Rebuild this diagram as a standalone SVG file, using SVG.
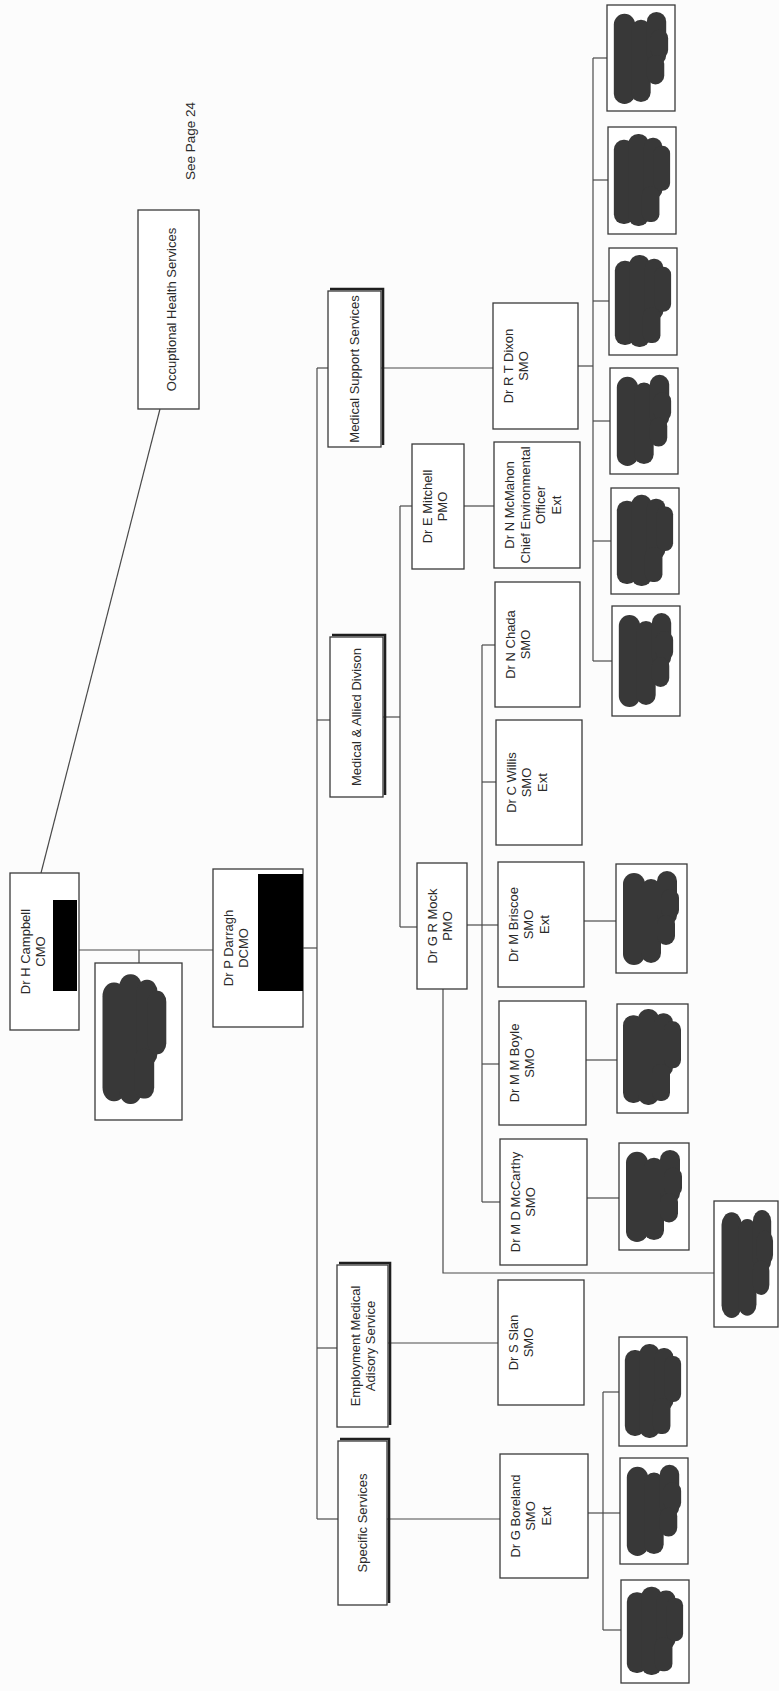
<svg xmlns="http://www.w3.org/2000/svg" width="779" height="1691" viewBox="0 0 779 1691">
<style>
.box{fill:#fff;stroke:#3a3a3a;stroke-width:1.3}
.shadow{fill:none;stroke:#1e1e1e;stroke-width:2.6}
.pic{fill:#fff;stroke:#3a3a3a;stroke-width:1.3}
.blob{fill:#383838}
.red{fill:#000}
#connectors line,#connectors polyline{stroke:#4a4a4a;stroke-width:1.2;fill:none}
text{font-family:"Liberation Sans",Arial,sans-serif;font-size:13px;fill:#2a2a2a;text-anchor:middle}
</style>
<defs>
<g id="blobA" class="blob">
<rect x="5" y="12" width="21" height="86" rx="10"/>
<rect x="20" y="6" width="21" height="94" rx="10"/>
<rect x="36" y="10" width="19" height="62" rx="9"/>
<rect x="46" y="18" width="17" height="46" rx="8"/>
<rect x="34" y="60" width="18" height="36" rx="8"/>
</g>
<g id="blobB" class="blob">
<rect x="6" y="8" width="22" height="92" rx="11"/>
<rect x="24" y="14" width="20" height="84" rx="10"/>
<rect x="40" y="6" width="20" height="54" rx="10"/>
<rect x="44" y="24" width="18" height="30" rx="9"/>
<rect x="40" y="50" width="18" height="30" rx="9"/>
</g>
</defs>
<rect width="779" height="1691" fill="#fcfcfc"/>

<g id="connectors">
<line x1="41" y1="873" x2="160" y2="409"/>
<line x1="79" y1="950" x2="213" y2="950"/>
<line x1="139" y1="950" x2="139" y2="963"/>
<line x1="303" y1="948" x2="317" y2="948"/>
<line x1="317" y1="368" x2="317" y2="1519"/>
<line x1="317" y1="368" x2="328" y2="368"/>
<line x1="381" y1="368" x2="493" y2="368"/>
<line x1="317" y1="720" x2="330" y2="720"/>
<line x1="383" y1="717" x2="400" y2="717"/>
<line x1="400" y1="506" x2="400" y2="927"/>
<line x1="400" y1="506" x2="412" y2="506"/>
<line x1="464" y1="506" x2="494" y2="506"/>
<line x1="400" y1="927" x2="417" y2="927"/>
<line x1="467" y1="925" x2="498" y2="925"/>
<line x1="482" y1="645" x2="482" y2="1202"/>
<line x1="482" y1="645" x2="495" y2="645"/>
<line x1="482" y1="782" x2="496" y2="782"/>
<line x1="482" y1="1064" x2="499" y2="1064"/>
<line x1="482" y1="1202" x2="500" y2="1202"/>
<polyline points="443,989 443,1273 714,1273"/>
<line x1="317" y1="1348" x2="337" y2="1348"/>
<line x1="388" y1="1343" x2="498" y2="1343"/>
<line x1="317" y1="1519" x2="338" y2="1519"/>
<line x1="387" y1="1519" x2="500" y2="1519"/>
<line x1="588" y1="1513" x2="620" y2="1513"/>
<line x1="603" y1="1392" x2="603" y2="1630"/>
<line x1="603" y1="1392" x2="619" y2="1392"/>
<line x1="603" y1="1630" x2="621" y2="1630"/>
<line x1="578" y1="366" x2="593" y2="366"/>
<line x1="593" y1="58" x2="593" y2="661"/>
<line x1="593" y1="58" x2="607" y2="58"/>
<line x1="593" y1="180" x2="608" y2="180"/>
<line x1="593" y1="301" x2="609" y2="301"/>
<line x1="593" y1="421" x2="610" y2="421"/>
<line x1="593" y1="541" x2="611" y2="541"/>
<line x1="593" y1="661" x2="612" y2="661"/>
<line x1="584" y1="921" x2="616" y2="921"/>
<line x1="586" y1="1060" x2="617" y2="1060"/>
<line x1="587" y1="1198" x2="619" y2="1198"/>
</g>

<text transform="translate(195,141) rotate(-90)" style="font-size:13.5px">See Page 24</text>

<g id="n-ohs"><rect class="box" x="138" y="210" width="61" height="199"/>
<text transform="translate(138,309.5) rotate(-90)"><tspan x="0" y="38">Occuptional Health Services</tspan></text></g>

<g id="n-campbell"><rect class="box" x="10" y="873" width="69" height="157"/>
<text transform="translate(10,951.5) rotate(-90)"><tspan x="0" y="19.5">Dr H Campbell</tspan><tspan x="0" y="35">CMO</tspan></text>
<rect class="red" x="53" y="900" width="24" height="91"/></g>

<g id="p-campbell"><rect class="pic" x="95" y="963" width="87" height="157"/>
<use href="#blobA" transform="translate(97,966) scale(1.1,1.38)"/></g>

<g id="n-darragh"><rect class="box" x="213" y="869" width="90" height="158"/>
<text transform="translate(213,948) rotate(-90)"><tspan x="0" y="19.5">Dr P Darragh</tspan><tspan x="0" y="35">DCMO</tspan></text>
<rect class="red" x="258" y="874" width="45" height="117"/></g>

<g id="n-mss"><path class="shadow" d="M330,289 H383 V445"/><rect class="box" x="328" y="291" width="53" height="156"/>
<text transform="translate(328,369) rotate(-90)"><tspan x="0" y="31">Medical Support Services</tspan></text></g>

<g id="n-mad"><path class="shadow" d="M332,635 H385 V795"/><rect class="box" x="330" y="637" width="53" height="160"/>
<text transform="translate(330,717) rotate(-90)"><tspan x="0" y="31">Medical &amp; Allied Divison</tspan></text></g>

<g id="n-emas"><path class="shadow" d="M339,1263 H390 V1425"/><rect class="box" x="337" y="1265" width="51" height="162"/>
<text transform="translate(337,1346) rotate(-90)"><tspan x="0" y="23">Employment Medical</tspan><tspan x="0" y="38">Adisory Service</tspan></text></g>

<g id="n-ss"><path class="shadow" d="M340,1439 H389 V1603"/><rect class="box" x="338" y="1441" width="49" height="164"/>
<text transform="translate(338,1523) rotate(-90)"><tspan x="0" y="29">Specific Services</tspan></text></g>

<g id="n-dixon"><rect class="box" x="493" y="303" width="85" height="126"/>
<text transform="translate(493,366) rotate(-90)"><tspan x="0" y="19.5">Dr R T Dixon</tspan><tspan x="0" y="35">SMO</tspan></text></g>

<g id="n-mitchell"><rect class="box" x="412" y="444" width="52" height="125"/>
<text transform="translate(412,506.5) rotate(-90)"><tspan x="0" y="19.5">Dr E Mitchell</tspan><tspan x="0" y="35">PMO</tspan></text></g>

<g id="n-mcmahon"><rect class="box" x="494" y="442" width="86" height="126"/>
<text transform="translate(494,505) rotate(-90)"><tspan x="0" y="20">Dr N McMahon</tspan><tspan x="0" y="35.5">Chief Environmental</tspan><tspan x="0" y="51">Officer</tspan><tspan x="0" y="66.5">Ext</tspan></text></g>

<g id="n-chada"><rect class="box" x="495" y="582" width="85" height="125"/>
<text transform="translate(495,644.5) rotate(-90)"><tspan x="0" y="19.5">Dr N Chada</tspan><tspan x="0" y="35">SMO</tspan></text></g>

<g id="n-willis"><rect class="box" x="496" y="720" width="86" height="125"/>
<text transform="translate(496,782.5) rotate(-90)"><tspan x="0" y="19.5">Dr C Willis</tspan><tspan x="0" y="35">SMO</tspan><tspan x="0" y="50.5">Ext</tspan></text></g>

<g id="n-mock"><rect class="box" x="417" y="863" width="50" height="126"/>
<text transform="translate(417,926) rotate(-90)"><tspan x="0" y="19.5">Dr G R Mock</tspan><tspan x="0" y="35">PMO</tspan></text></g>

<g id="n-briscoe"><rect class="box" x="498" y="862" width="86" height="125"/>
<text transform="translate(498,924.5) rotate(-90)"><tspan x="0" y="19.5">Dr M Briscoe</tspan><tspan x="0" y="35">SMO</tspan><tspan x="0" y="50.5">Ext</tspan></text></g>

<g id="n-boyle"><rect class="box" x="499" y="1001" width="87" height="124"/>
<text transform="translate(499,1063) rotate(-90)"><tspan x="0" y="19.5">Dr M M Boyle</tspan><tspan x="0" y="35">SMO</tspan></text></g>

<g id="n-mccarthy"><rect class="box" x="500" y="1139" width="87" height="126"/>
<text transform="translate(500,1202) rotate(-90)"><tspan x="0" y="19.5">Dr M D McCarthy</tspan><tspan x="0" y="35">SMO</tspan></text></g>

<g id="n-slan"><rect class="box" x="498" y="1280" width="86" height="125"/>
<text transform="translate(498,1342.5) rotate(-90)"><tspan x="0" y="19.5">Dr S Slan</tspan><tspan x="0" y="35">SMO</tspan></text></g>

<g id="n-boreland"><rect class="box" x="500" y="1454" width="88" height="124"/>
<text transform="translate(500,1516) rotate(-90)"><tspan x="0" y="19.5">Dr G Boreland</tspan><tspan x="0" y="35">SMO</tspan><tspan x="0" y="50.5">Ext</tspan></text></g>

<g id="p-dixon-1"><rect class="pic" x="607" y="5" width="68" height="106"/><use href="#blobB" transform="translate(608,6) scale(0.97,0.98)"/></g>
<g id="p-dixon-2"><rect class="pic" x="608" y="127" width="68" height="107"/><use href="#blobA" transform="translate(609,128) scale(0.97,0.98)"/></g>
<g id="p-dixon-3"><rect class="pic" x="609" y="248" width="68" height="107"/><use href="#blobA" transform="translate(610,249) scale(0.97,0.98)"/></g>
<g id="p-dixon-4"><rect class="pic" x="610" y="368" width="68" height="106"/><use href="#blobB" transform="translate(611,369) scale(0.97,0.97)"/></g>
<g id="p-dixon-5"><rect class="pic" x="611" y="488" width="68" height="106"/><use href="#blobA" transform="translate(612,489) scale(0.97,0.97)"/></g>
<g id="p-dixon-6"><rect class="pic" x="612" y="606" width="68" height="110"/><use href="#blobB" transform="translate(613,607) scale(0.97,1.0)"/></g>
<g id="p-briscoe"><rect class="pic" x="616" y="864" width="71" height="109"/><use href="#blobB" transform="translate(617,865) scale(1.0,1.0)"/></g>
<g id="p-boyle"><rect class="pic" x="617" y="1004" width="71" height="109"/><use href="#blobA" transform="translate(618,1003) scale(1.0,1.02)"/></g>
<g id="p-mccarthy"><rect class="pic" x="619" y="1143" width="70" height="107"/><use href="#blobB" transform="translate(620,1144) scale(1.0,0.98)"/></g>
<g id="p-mock"><rect class="pic" x="714" y="1201" width="64" height="126"/><use href="#blobB" transform="translate(716,1203) scale(0.92,1.15)"/></g>
<g id="p-boreland-1"><rect class="pic" x="619" y="1337" width="68" height="109"/><use href="#blobA" transform="translate(620,1338) scale(0.97,1.0)"/></g>
<g id="p-boreland-2"><rect class="pic" x="620" y="1458" width="68" height="106"/><use href="#blobB" transform="translate(621,1459) scale(0.97,0.97)"/></g>
<g id="p-boreland-3"><rect class="pic" x="621" y="1580" width="68" height="103"/><use href="#blobA" transform="translate(622,1581) scale(0.97,0.94)"/></g>
</svg>
